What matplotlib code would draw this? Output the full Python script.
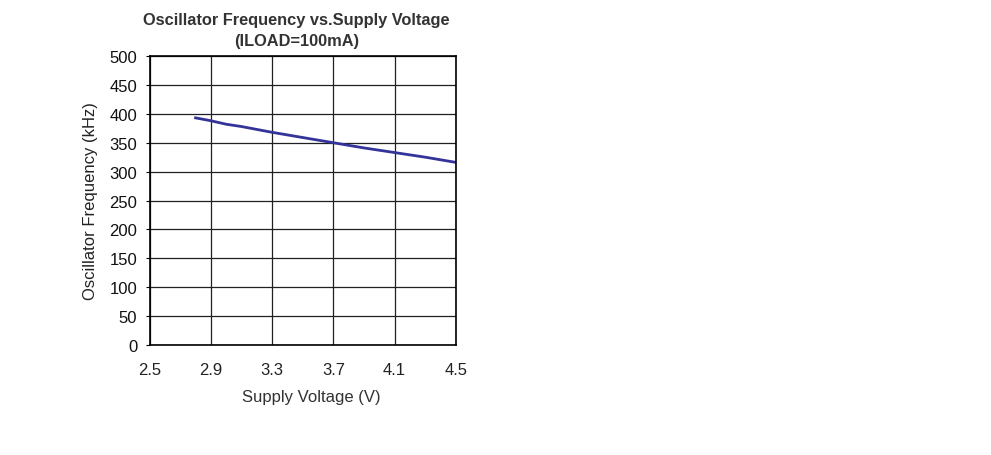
import matplotlib
matplotlib.use("Agg")
from matplotlib import pyplot as plt

plt.rcParams['font.family'] = ['Liberation Sans', 'DejaVu Sans']

voltage = [2.8, 2.9, 3.0, 3.1, 3.3, 3.5, 3.7, 3.9, 4.1, 4.3, 4.5]
freq = [393, 388, 382, 378, 368, 359, 350, 341, 333, 325, 316]

x_ticks = [2.5, 2.9, 3.3, 3.7, 4.1, 4.5]
y_ticks = list(range(0, 501, 50))

fig = plt.figure(figsize=(9.91, 4.56), dpi=100)
ax = fig.add_axes([0.151, 0.241, 0.309, 0.634])

ax.plot(voltage, freq, color="#333399", linewidth=2)

ax.set_xlim(2.5, 4.5)
ax.set_ylim(0, 500)
ax.set_xticks(x_ticks)
ax.set_xticklabels(["2.5", "2.9", "3.3", "3.7", "4.1", "4.5"])
ax.set_yticks(y_ticks)
ax.grid(True, color="#202020", linewidth=0.9)
ax.set_axisbelow(True)
for s in ax.spines.values():
	s.set_linewidth(1.2)
	s.set_color("black")
ax.tick_params(axis="x", length=0, pad=12, labelsize=12, labelcolor="#222222")
ax.tick_params(axis="y", length=3, direction="out", pad=6, labelsize=12, labelcolor="#111111")

ax.set_xlabel("Supply Voltage (V)", fontsize=12, color="#333333")
ax.xaxis.set_label_coords(0.528, -0.152)
ax.set_ylabel("Oscillator Frequency (kHz)", fontsize=12, labelpad=8, color="#222222")
ax.set_title("Oscillator Frequency vs.Supply Voltage\n(ILOAD=100mA)", fontsize=11.8, fontweight="bold", color="#333333", pad=8, linespacing=1.45, x=0.48)

fig.savefig("out.png", dpi=100)
